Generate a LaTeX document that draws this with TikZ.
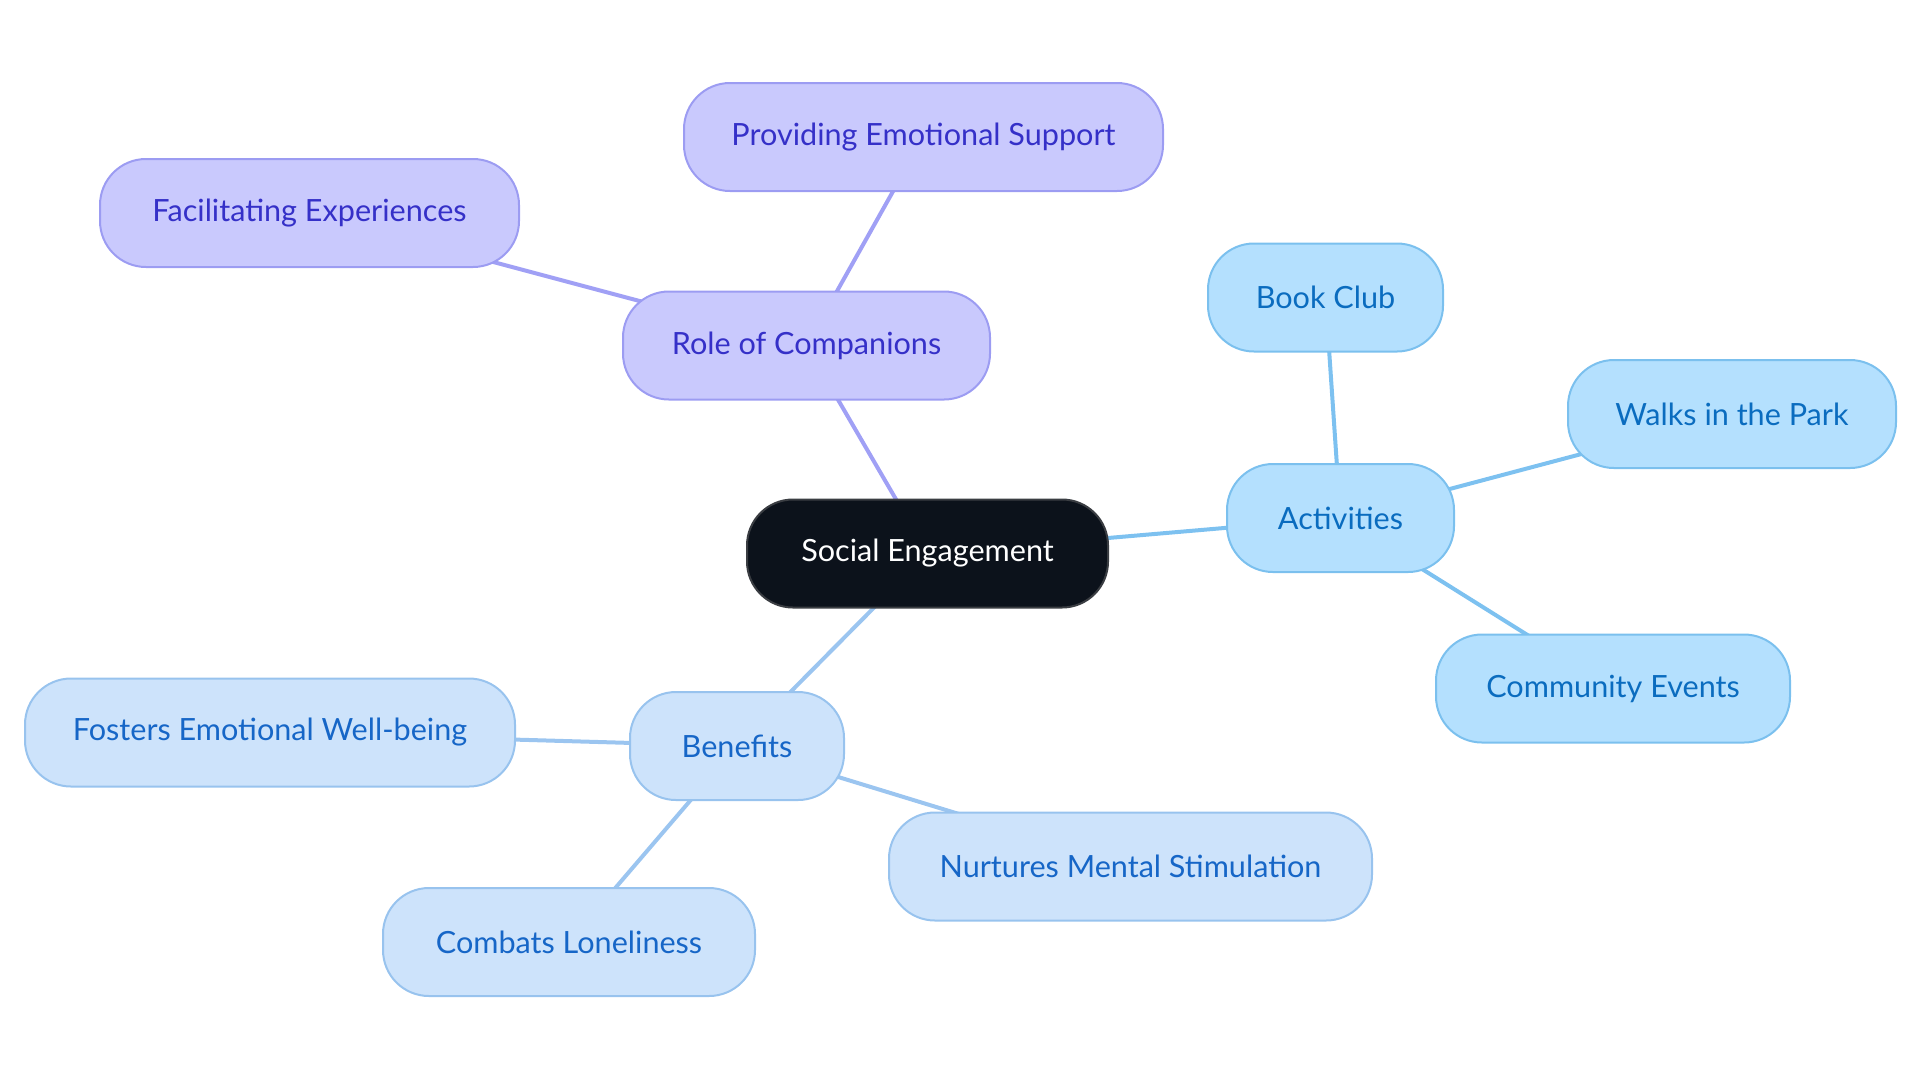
\documentclass[tikz,border=0pt]{standalone}
\usepackage{fontspec}
\setmainfont{Lato}
\usetikzlibrary{backgrounds}
\definecolor{rootfill}{HTML}{0C121B}
\definecolor{rootdraw}{HTML}{3A3D42}
\definecolor{purfill}{HTML}{C9C9FD}
\definecolor{purdraw}{HTML}{9C9CF2}
\definecolor{purtext}{HTML}{3530C8}
\definecolor{puredge}{HTML}{A0A0F5}
\definecolor{actfill}{HTML}{B4E0FE}
\definecolor{actdraw}{HTML}{7BC0EE}
\definecolor{acttext}{HTML}{0A6CBF}
\definecolor{actedge}{HTML}{7DC1F0}
\definecolor{benfill}{HTML}{CDE3FB}
\definecolor{bendraw}{HTML}{98C3EE}
\definecolor{bentext}{HTML}{1666C7}
\definecolor{benedge}{HTML}{9BC5F0}
\tikzset{
  mm/.style={rounded corners=23pt, line width=1pt, minimum height=54pt, inner sep=0pt,
    font=\fontsize{15.3}{18}\selectfont},
  rootnode/.style={mm, fill=rootfill, draw=rootdraw, text=white},
  purnode/.style={mm, fill=purfill, draw=purdraw, text=purtext},
  actnode/.style={mm, fill=actfill, draw=actdraw, text=acttext},
  bennode/.style={mm, fill=benfill, draw=bendraw, text=bentext},
  puredgestyle/.style={draw=puredge, line width=2pt},
  actedgestyle/.style={draw=actedge, line width=2pt},
  benedgestyle/.style={draw=benedge, line width=2pt},
}
\begin{document}
\begin{tikzpicture}[x=0.5pt,y=-0.5pt]
\useasboundingbox (0,0) rectangle (1920,1083);
\node[rootnode, minimum width=180.5pt] (se) at (927.5,553.5) {Social Engagement};
\node[purnode, minimum width=183.5pt] (roc) at (806.5,345.5) {Role of Companions};
\node[purnode, minimum width=239.5pt] (pes) at (923.5,137) {Providing Emotional Support};
\node[purnode, minimum width=209.5pt] (fe) at (309.5,213) {Facilitating Experiences};
\node[actnode, minimum width=113.5pt] (act) at (1340.5,518) {Activities};
\node[actnode, minimum width=117.5pt] (bc) at (1325.5,297.5) {Book Club};
\node[actnode, minimum width=164pt] (wp) at (1732,414) {Walks in the Park};
\node[actnode, minimum width=177pt] (ce) at (1613,688.5) {Community Events};
\node[bennode, minimum width=107pt] (ben) at (737,746) {Benefits};
\node[bennode, minimum width=245pt] (few) at (270,732.5) {Fosters Emotional Well-being};
\node[bennode, minimum width=241.5pt] (nms) at (1130.5,866.5) {Nurtures Mental Stimulation};
\node[bennode, minimum width=186pt] (cl) at (569,942) {Combats Loneliness};
\begin{scope}[on background layer]
\draw[puredgestyle] (se.center) -- (roc.center);
\draw[puredgestyle] (roc.center) -- (pes.center);
\draw[puredgestyle] (roc.center) -- (fe.center);
\draw[actedgestyle] (se.center) -- (act.center);
\draw[actedgestyle] (act.center) -- (bc.center);
\draw[actedgestyle] (act.center) -- (wp.center);
\draw[actedgestyle] (act.center) -- (ce.center);
\draw[benedgestyle] (se.center) -- (ben.center);
\draw[benedgestyle] (ben.center) -- (few.center);
\draw[benedgestyle] (ben.center) -- (nms.center);
\draw[benedgestyle] (ben.center) -- (cl.center);
\end{scope}
\end{tikzpicture}
\end{document}
